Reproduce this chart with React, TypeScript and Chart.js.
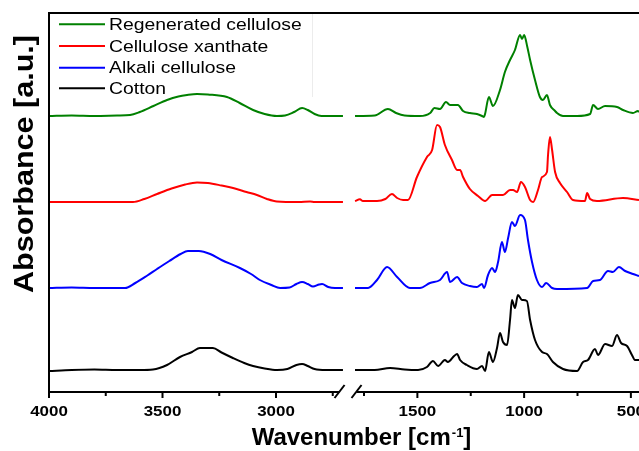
import React, { useEffect, useRef } from 'react';
import { Chart, registerables } from 'chart.js';

Chart.register(...registerables);

// ---------------- data ----------------
const seriesNames = ['Regenerated cellulose', 'Cellulose xanthate', 'Alkali cellulose', 'Cotton'];
const seriesColors = ['#008000', '#ff0000', '#0000ff', '#000000'];

const majorTicks = [4000, 3500, 3000, 1500, 1000, 500];
const minorTicks = [3750, 3250, 2750, 1750, 1250, 750];

// null entries mark the axis break
const regenWn = [4000, 3900, 3800, 3700, 3643, 3600, 3540, 3480, 3430, 3392, 3348, 3300, 3216, 3160, 3101, 3050, 2996, 2960, 2920, 2885, 2860, 2830, 2800, 2750, 2705, 2200,
  1792, 1700, 1638, 1600, 1560, 1488, 1440, 1420, 1394, 1366, 1347, 1330, 1310, 1286, 1254, 1221, 1197, 1188, 1183, 1165, 1146, 1113, 1090, 1066, 1043, 1019, 1010, 1000, 985, 972, 949, 926, 912, 893, 879, 855, 846, 818, 752, 691, 677, 654, 621, 565, 537, 490, 467, 462];
const regenAbs = [276, 276.5, 276, 276.5, 277, 280, 286, 292, 295.5, 297, 298, 297.5, 295, 289, 282, 278, 276, 276.5, 280, 284, 282, 278, 276, 276, 276, null,
  276, 276.5, 283, 279, 276.5, 276, 279, 284, 283, 290, 287, 287, 287, 281, 279, 278, 276, 275, 278, 295, 286, 302, 320, 332, 342, 357, 353, 357, 345, 332, 312, 295, 292, 297, 287, 281, 279, 276, 276, 278, 287, 283, 286, 285, 282, 279, 281, 280];

const xanthWn = [4000, 3900, 3800, 3700, 3630, 3580, 3524, 3460, 3400, 3348, 3300, 3240, 3189, 3130, 3084, 3040, 2996, 2900, 2850, 2830, 2705, 2200,
  1792, 1769, 1755, 1731, 1689, 1650, 1619, 1595, 1567, 1544, 1502, 1455, 1431, 1408, 1394, 1371, 1338, 1314, 1300, 1286, 1254, 1216, 1183, 1150, 1099, 1066, 1052, 1033, 1015, 996, 972, 958, 935, 916, 893, 888, 879, 869, 855, 832, 799, 771, 715, 705, 691, 659, 537, 462];
const xanthAbs = [190, 190, 190, 190, 190, 193, 198, 203.5, 207.5, 209.5, 209, 206.5, 204, 200, 197, 193, 190.5, 190, 190.5, 190, 190, null,
  191, 192.7, 191, 191, 191, 193, 198, 194, 192, 192, 215, 235, 242, 267, 265, 247, 232, 222, 222, 215, 203, 196, 191, 197, 197, 202, 202, 200, 210, 205, 192, 190, 202, 215, 220, 237, 255, 242, 220, 209, 200, 192, 191, 199, 193, 191, 194, 192];

const alkaliWn = [4000, 3900, 3800, 3700, 3665, 3620, 3570, 3524, 3470, 3420, 3388, 3340, 3290, 3240, 3159, 3110, 3071, 3020, 2982, 2940, 2910, 2885, 2860, 2837, 2810, 2797, 2770, 2740, 2705, 2200,
  1792, 1731, 1689, 1642, 1595, 1535, 1488, 1441, 1394, 1361, 1347, 1314, 1291, 1254, 1221, 1197, 1188, 1169, 1150, 1136, 1122, 1104, 1090, 1075, 1057, 1043, 1019, 996, 982, 963, 940, 916, 897, 869, 846, 705, 677, 645, 607, 584, 556, 527, 490, 462];
const alkaliAbs = [104, 104.5, 104, 104, 104, 109, 116, 123, 131, 138, 141, 141, 138, 132, 124, 118, 112, 107, 104, 104.5, 108, 110, 108, 105.5, 107.5, 108, 105, 104, 104, null,
  104, 104, 112, 125, 115, 104, 104, 109, 112, 120, 110, 115, 109, 106, 105, 108, 104, 117, 124, 120, 130, 150, 140, 154, 170, 166, 177, 172, 152, 130, 112, 105, 109, 104, 103, 104, 111, 112, 121, 120, 125, 121, 118, 116];

const cottonWn = [4000, 3900, 3800, 3700, 3600, 3542, 3480, 3423, 3370, 3335, 3278, 3240, 3190, 3140, 3101, 3050, 2996, 2950, 2910, 2885, 2860, 2830, 2780, 2705, 2200,
  1792, 1700, 1628, 1560, 1497, 1455, 1427, 1403, 1371, 1357, 1328, 1314, 1300, 1268, 1221, 1197, 1183, 1165, 1146, 1127, 1113, 1099, 1080, 1066, 1057, 1043, 1029, 1010, 987, 972, 949, 916, 893, 865, 818, 752, 724, 701, 668, 654, 621, 588, 565, 546, 518, 495, 481, 462];
const cottonAbs = [21, 22, 22.5, 22, 22, 22.5, 27, 35, 40, 44, 44, 39.5, 34, 29, 26, 23.5, 22, 23, 27, 28, 26, 23, 22, 22, null,
  22, 22, 24, 22.5, 22, 25, 31, 26, 32, 30, 36, 38, 32, 27, 23, 26, 21, 40, 30, 44, 59, 50, 47, 72, 92, 84, 97, 92, 91, 72, 52, 40, 38, 30, 23, 21, 30, 32, 43, 37, 48, 46, 57, 49, 46, 37, 32, 32];

// ---------------- broken axis mapping ----------------
const LEFT_START = 4000;
const LEFT_RATE = 0.227;
const RIGHT_START = 1750;
const RIGHT_OFFSET = 315;
const RIGHT_RATE = 0.2135;
const AXIS_MAX = 590;
const BREAK_LEFT_WN = 2720;
const BREAK_RIGHT_WN = 1785;

function toU(w: number): number {
  if (w >= 2200) return (LEFT_START - w) * LEFT_RATE;
  return RIGHT_OFFSET + (RIGHT_START - w) * RIGHT_RATE;
}

function makeData(wn: number[], abs: (number | null)[]) {
  return wn.map((w, i) => ({ x: toU(w), y: abs[i] }));
}

const FONT = '"Liberation Sans", Arial, Helvetica, sans-serif';

function drawScaledText(ctx: CanvasRenderingContext2D, text: string, x: number, y: number, sx: number, align: CanvasTextAlign) {
  ctx.save();
  ctx.translate(x, y);
  ctx.scale(sx, 1);
  ctx.textAlign = align;
  ctx.fillText(text, 0, 0);
  ctx.restore();
}

const framePlugin = {
  id: 'frame',
  afterDatasetsDraw(chart: any) {
    const { ctx, chartArea: a, scales } = chart;
    const xs = scales.x;
    const px = (w: number) => xs.getPixelForValue(toU(w));
    ctx.save();
    ctx.strokeStyle = '#000';
    ctx.fillStyle = '#000';
    ctx.lineWidth = 2;
    ctx.lineCap = 'butt';
    const seg = (x1: number, y1: number, x2: number, y2: number) => {
      ctx.beginPath();
      ctx.moveTo(x1, y1);
      ctx.lineTo(x2, y2);
      ctx.stroke();
    };
    const b = a.bottom;
    // left axis (extends as tick)
    seg(a.left, a.top - 1, a.left, b + 6);
    // top border
    seg(a.left - 1, a.top, a.right, a.top);
    // bottom axis with break
    const gL = px(BREAK_LEFT_WN);
    const gR = px(BREAK_RIGHT_WN);
    seg(a.left - 1, b, gL, b);
    seg(gR, b, a.right, b);
    // break slashes
    seg(gL - 5, b + 6, gL + 5, b - 7);
    seg(gR - 5, b + 6, gR + 5, b - 7);
    // ticks
    majorTicks.forEach((t) => {
      const x = px(t);
      seg(x, b, x, b + 6);
    });
    minorTicks.forEach((t) => {
      const x = px(t);
      seg(x, b, x, b + 4);
    });
    // tick labels
    ctx.font = `bold 15px ${FONT}`;
    ctx.textBaseline = 'alphabetic';
    majorTicks.forEach((t) => {
      drawScaledText(ctx, String(t), px(t), b + 24, 1.13, 'center');
    });
    // x title with superscript
    const main1 = 'Wavenumber [cm';
    const sup = '-1';
    const main2 = ']';
    ctx.font = `bold 24px ${FONT}`;
    const w1 = ctx.measureText(main1).width;
    const w3 = ctx.measureText(main2).width;
    ctx.font = `bold 13px ${FONT}`;
    const w2 = ctx.measureText(sup).width;
    const total = w1 + w2 + w3;
    const sx0 = 361 - total / 2;
    ctx.textAlign = 'left';
    ctx.font = `bold 24px ${FONT}`;
    ctx.fillText(main1, sx0, 445);
    ctx.font = `bold 13px ${FONT}`;
    ctx.fillText(sup, sx0 + w1 + 1, 437);
    ctx.font = `bold 24px ${FONT}`;
    ctx.fillText(main2, sx0 + w1 + w2 + 1, 445);
    // y title
    ctx.save();
    ctx.font = `bold 28px ${FONT}`;
    const yTitle = 'Absorbance [a.u.]';
    const yw = ctx.measureText(yTitle).width;
    const ys = 258 / yw;
    ctx.translate(33, 164);
    ctx.rotate(-Math.PI / 2);
    ctx.scale(ys, 1);
    ctx.textAlign = 'center';
    ctx.fillText(yTitle, 0, 0);
    ctx.restore();
    // legend
    ctx.strokeStyle = '#ececec';
    ctx.lineWidth = 1;
    seg(312.5, a.top + 1, 312.5, 97);
    ctx.font = `16px ${FONT}`;
    const rowY = [24.3, 46, 67.7, 88.3];
    seriesNames.forEach((name, i) => {
      ctx.strokeStyle = seriesColors[i];
      ctx.lineWidth = 2;
      seg(59, rowY[i], 105, rowY[i]);
      ctx.fillStyle = '#000';
      drawScaledText(ctx, name, 109, rowY[i] + 5.6, 1.21, 'left');
    });
    ctx.restore();
  },
};

export default function App() {
  const ref = useRef<HTMLCanvasElement | null>(null);
  useEffect(() => {
    if (!ref.current) return;
    const wns = [regenWn, xanthWn, alkaliWn, cottonWn];
    const abss = [regenAbs, xanthAbs, alkaliAbs, cottonAbs];
    const chart = new Chart(ref.current, {
      type: 'line',
      data: {
        datasets: seriesNames.map((name, i) => ({
          label: name,
          data: makeData(wns[i], abss[i]) as any,
          borderColor: seriesColors[i],
          backgroundColor: seriesColors[i],
          borderWidth: 2,
          pointRadius: 0,
          cubicInterpolationMode: 'monotone' as const,
          spanGaps: false,
          fill: false,
        })),
      },
      options: {
        animation: false,
        responsive: false,
        devicePixelRatio: 1,
        layout: { padding: { left: 49, top: 13, right: 0, bottom: 59 } },
        scales: {
          x: { type: 'linear', min: 0, max: AXIS_MAX, display: false },
          y: { type: 'linear', min: 0, max: 379, display: false },
        },
        plugins: {
          legend: { display: false },
          tooltip: { enabled: false },
        },
      },
      plugins: [framePlugin],
    });
    return () => chart.destroy();
  }, []);
  return (
    <div style={{ position: 'fixed', left: 0, top: 0, width: 639, height: 451, background: '#fff' }}>
      <canvas ref={ref} width={639} height={451} style={{ display: 'block', width: 639, height: 451 }} />
    </div>
  );
}
